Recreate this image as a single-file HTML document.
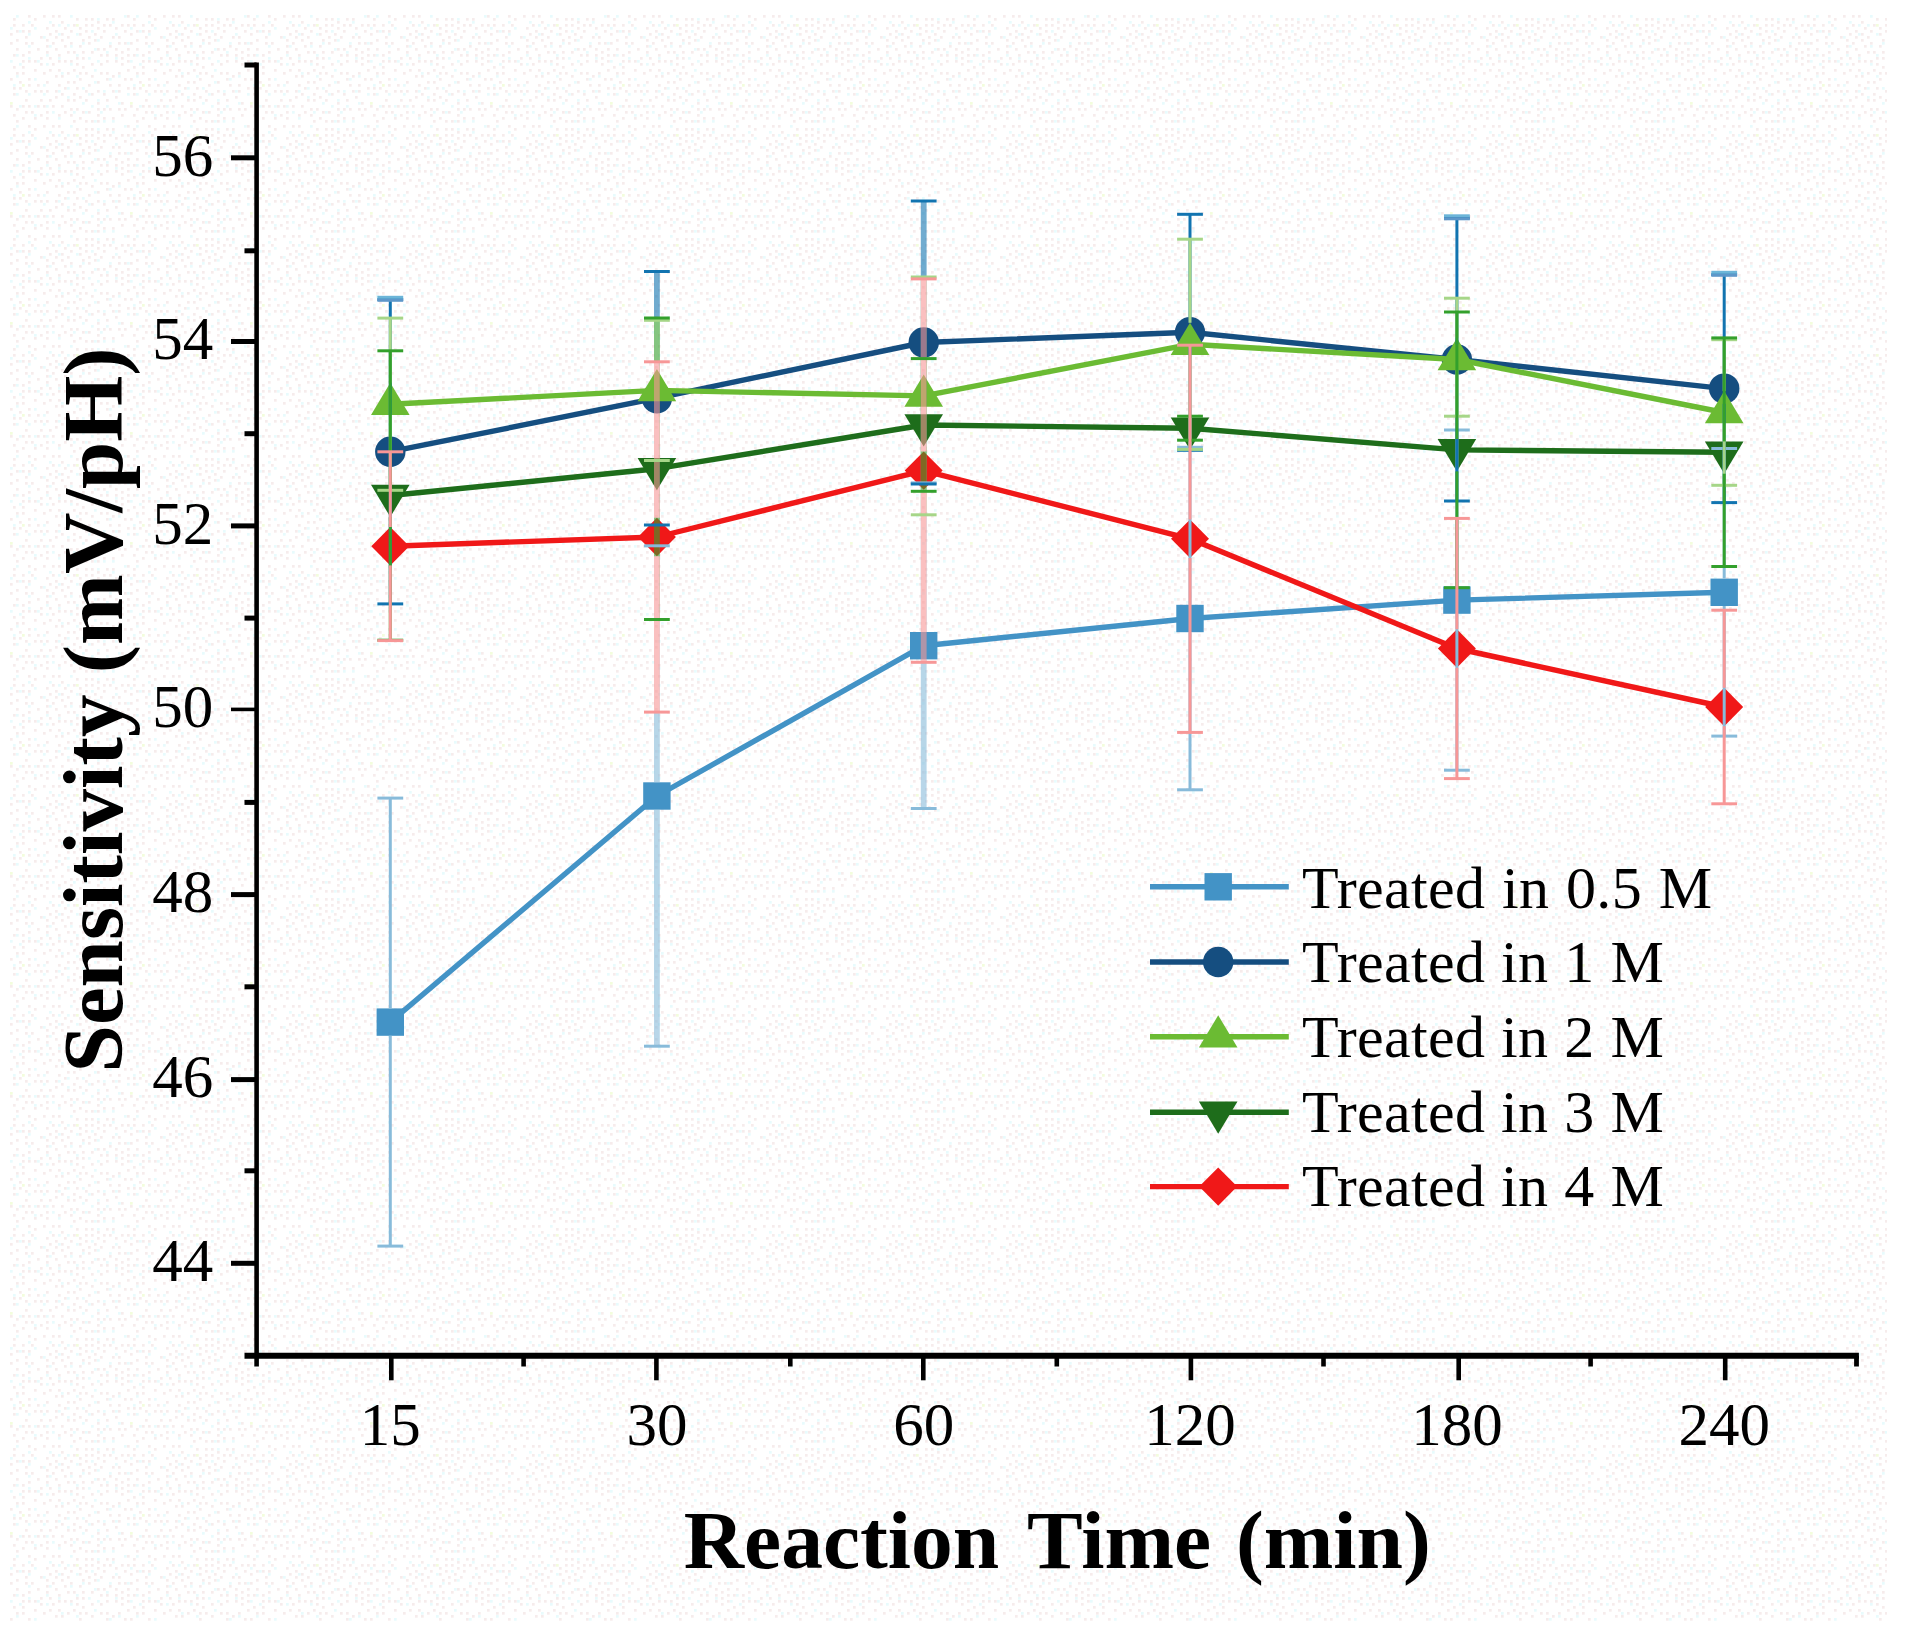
<!DOCTYPE html>
<html lang="en"><head><meta charset="utf-8"><title>Sensitivity vs Reaction Time</title>
<style>
html,body{margin:0;padding:0;background:#fff;}
body{width:1915px;height:1642px;overflow:hidden;}
svg{display:block;}
text{font-family:"Liberation Serif","Times New Roman",serif;fill:#000;}
.tk{font-size:61px;text-anchor:middle;}
.lg{font-size:60px;letter-spacing:0.3px;word-spacing:0.6px;}
.ttl{font-size:83.5px;font-weight:bold;}
</style></head><body>
<svg width="1915" height="1642" viewBox="0 0 1915 1642">
<defs>
<pattern id="dither" x="10" y="15" width="120" height="110" patternUnits="userSpaceOnUse">
<rect x="60" y="27" width="2.7" height="2.7" fill="#F6ECEC"/>
<rect x="75" y="9" width="2.7" height="2.7" fill="#F6ECEC"/>
<rect x="12" y="102" width="2.7" height="2.7" fill="#F6ECEC"/>
<rect x="18" y="69" width="2.7" height="2.7" fill="#F6ECEC"/>
<rect x="111" y="9" width="2.7" height="2.7" fill="#F6ECEC"/>
<rect x="96" y="39" width="2.7" height="2.7" fill="#F6ECEC"/>
<rect x="6" y="15" width="2.7" height="2.7" fill="#F6ECEC"/>
<rect x="81" y="78" width="2.7" height="2.7" fill="#F6ECEC"/>
<rect x="12" y="45" width="2.7" height="2.7" fill="#F6ECEC"/>
<rect x="81" y="9" width="2.7" height="2.7" fill="#F6ECEC"/>
<rect x="108" y="21" width="2.7" height="2.7" fill="#F6ECEC"/>
<rect x="42" y="9" width="2.7" height="2.7" fill="#F6ECEC"/>
<rect x="108" y="75" width="2.7" height="2.7" fill="#F6ECEC"/>
<rect x="6" y="105" width="2.7" height="2.7" fill="#F6ECEC"/>
<rect x="24" y="54" width="2.7" height="2.7" fill="#F6ECEC"/>
<rect x="78" y="27" width="2.7" height="2.7" fill="#F6ECEC"/>
<rect x="102" y="21" width="2.7" height="2.7" fill="#F6ECEC"/>
<rect x="108" y="57" width="2.7" height="2.7" fill="#F6ECEC"/>
<rect x="105" y="33" width="2.7" height="2.7" fill="#F6ECEC"/>
<rect x="18" y="36" width="2.7" height="2.7" fill="#F6ECEC"/>
<rect x="69" y="18" width="2.7" height="2.7" fill="#F6ECEC"/>
<rect x="105" y="12" width="2.7" height="2.7" fill="#F6ECEC"/>
<rect x="117" y="39" width="2.7" height="2.7" fill="#F6ECEC"/>
<rect x="93" y="102" width="2.7" height="2.7" fill="#F6ECEC"/>
<rect x="81" y="60" width="2.7" height="2.7" fill="#F6ECEC"/>
<rect x="87" y="87" width="2.7" height="2.7" fill="#F6ECEC"/>
<rect x="69" y="57" width="2.7" height="2.7" fill="#F6ECEC"/>
<rect x="45" y="33" width="2.7" height="2.7" fill="#F6ECEC"/>
<rect x="45" y="15" width="2.7" height="2.7" fill="#F6ECEC"/>
<rect x="99" y="93" width="2.7" height="2.7" fill="#F6ECEC"/>
<rect x="63" y="84" width="2.7" height="2.7" fill="#F6ECEC"/>
<rect x="54" y="12" width="2.7" height="2.7" fill="#F6ECEC"/>
<rect x="21" y="96" width="2.7" height="2.7" fill="#F6ECEC"/>
<rect x="93" y="78" width="2.7" height="2.7" fill="#F6ECEC"/>
<rect x="63" y="66" width="2.7" height="2.7" fill="#F6ECEC"/>
<rect x="114" y="93" width="2.7" height="2.7" fill="#F6ECEC"/>
<rect x="111" y="87" width="2.7" height="2.7" fill="#F6ECEC"/>
<rect x="12" y="15" width="2.7" height="2.7" fill="#F6ECEC"/>
<rect x="51" y="90" width="2.7" height="2.7" fill="#F6ECEC"/>
<rect x="12" y="9" width="2.7" height="2.7" fill="#F6ECEC"/>
<rect x="57" y="84" width="2.7" height="2.7" fill="#F6ECEC"/>
<rect x="54" y="72" width="2.7" height="2.7" fill="#F6ECEC"/>
<rect x="66" y="3" width="2.7" height="2.7" fill="#F6ECEC"/>
<rect x="87" y="66" width="2.7" height="2.7" fill="#F6ECEC"/>
<rect x="30" y="21" width="2.7" height="2.7" fill="#F6ECEC"/>
<rect x="93" y="9" width="2.7" height="2.7" fill="#F6ECEC"/>
<rect x="39" y="54" width="2.7" height="2.7" fill="#F6ECEC"/>
<rect x="24" y="45" width="2.7" height="2.7" fill="#F6ECEC"/>
<rect x="75" y="75" width="2.7" height="2.7" fill="#F6ECEC"/>
<rect x="93" y="15" width="2.7" height="2.7" fill="#F6ECEC"/>
<rect x="30" y="84" width="2.7" height="2.7" fill="#F6ECEC"/>
<rect x="75" y="105" width="2.7" height="2.7" fill="#F6ECEC"/>
<rect x="51" y="24" width="2.7" height="2.7" fill="#F6ECEC"/>
<rect x="81" y="105" width="2.7" height="2.7" fill="#F6ECEC"/>
<rect x="51" y="78" width="2.7" height="2.7" fill="#F6ECEC"/>
<rect x="66" y="72" width="2.7" height="2.7" fill="#F6ECEC"/>
<rect x="42" y="27" width="2.7" height="2.7" fill="#F6ECEC"/>
<rect x="42" y="0" width="2.7" height="2.7" fill="#F6ECEC"/>
<rect x="93" y="33" width="2.7" height="2.7" fill="#F6ECEC"/>
<rect x="48" y="54" width="2.7" height="2.7" fill="#F6ECEC"/>
<rect x="0" y="27" width="2.7" height="2.7" fill="#F6ECEC"/>
<rect x="117" y="9" width="2.7" height="2.7" fill="#F6ECEC"/>
<rect x="87" y="105" width="2.7" height="2.7" fill="#F6ECEC"/>
<rect x="18" y="90" width="2.7" height="2.7" fill="#F6ECEC"/>
<rect x="36" y="12" width="2.7" height="2.7" fill="#F6ECEC"/>
<rect x="39" y="84" width="2.7" height="2.7" fill="#F6ECEC"/>
<rect x="63" y="9" width="2.7" height="2.7" fill="#F6ECEC"/>
<rect x="18" y="0" width="2.7" height="2.7" fill="#F6ECEC"/>
<rect x="108" y="27" width="2.7" height="2.7" fill="#F6ECEC"/>
<rect x="12" y="39" width="2.7" height="2.7" fill="#F6ECEC"/>
<rect x="117" y="72" width="2.7" height="2.7" fill="#F6ECEC"/>
<rect x="90" y="21" width="2.7" height="2.7" fill="#F6ECEC"/>
<rect x="90" y="57" width="2.7" height="2.7" fill="#F6ECEC"/>
<rect x="15" y="27" width="2.7" height="2.7" fill="#F6ECEC"/>
<rect x="18" y="63" width="2.7" height="2.7" fill="#F6ECEC"/>
<rect x="30" y="99" width="2.7" height="2.7" fill="#F6ECEC"/>
<rect x="3" y="39" width="2.7" height="2.7" fill="#F6ECEC"/>
<rect x="99" y="69" width="2.7" height="2.7" fill="#F6ECEC"/>
<rect x="3" y="99" width="2.7" height="2.7" fill="#F6ECEC"/>
<rect x="48" y="99" width="2.7" height="2.7" fill="#F6ECEC"/>
<rect x="69" y="30" width="2.7" height="2.7" fill="#F6ECEC"/>
<rect x="66" y="42" width="2.7" height="2.7" fill="#F6ECEC"/>
<rect x="102" y="102" width="2.7" height="2.7" fill="#F6ECEC"/>
<rect x="96" y="63" width="2.7" height="2.7" fill="#F6ECEC"/>
<rect x="45" y="75" width="2.7" height="2.7" fill="#F6ECEC"/>
<rect x="3" y="51" width="2.7" height="2.7" fill="#F6ECEC"/>
<rect x="90" y="48" width="2.7" height="2.7" fill="#F6ECEC"/>
<rect x="36" y="66" width="2.7" height="2.7" fill="#F6ECEC"/>
<rect x="42" y="90" width="2.7" height="2.7" fill="#F6ECEC"/>
<rect x="117" y="0" width="2.7" height="2.7" fill="#F6ECEC"/>
<rect x="15" y="21" width="2.7" height="2.7" fill="#F6ECEC"/>
<rect x="72" y="36" width="2.7" height="2.7" fill="#F6ECEC"/>
<rect x="15" y="75" width="2.7" height="2.7" fill="#F6ECEC"/>
<rect x="87" y="75" width="2.7" height="2.7" fill="#F6ECEC"/>
<rect x="27" y="90" width="2.7" height="2.7" fill="#F6ECEC"/>
<rect x="24" y="3" width="2.7" height="2.7" fill="#F6ECEC"/>
<rect x="0" y="18" width="2.7" height="2.7" fill="#F6ECEC"/>
<rect x="81" y="36" width="2.7" height="2.7" fill="#F6ECEC"/>
<rect x="48" y="39" width="2.7" height="2.7" fill="#F6ECEC"/>
<rect x="54" y="96" width="2.7" height="2.7" fill="#F6ECEC"/>
<rect x="45" y="60" width="2.7" height="2.7" fill="#F6ECEC"/>
<rect x="9" y="66" width="2.7" height="2.7" fill="#F6ECEC"/>
<rect x="87" y="99" width="2.7" height="2.7" fill="#F6ECEC"/>
<rect x="78" y="96" width="2.7" height="2.7" fill="#F6ECEC"/>
<rect x="24" y="102" width="2.7" height="2.7" fill="#F6ECEC"/>
<rect x="96" y="3" width="2.7" height="2.7" fill="#F6ECEC"/>
<rect x="27" y="33" width="2.7" height="2.7" fill="#F6ECEC"/>
<rect x="60" y="99" width="2.7" height="2.7" fill="#F6ECEC"/>
<rect x="51" y="6" width="2.7" height="2.7" fill="#F6ECEC"/>
<rect x="96" y="45" width="2.7" height="2.7" fill="#F6ECEC"/>
<rect x="84" y="24" width="2.7" height="2.7" fill="#F6ECEC"/>
<rect x="78" y="21" width="2.7" height="2.7" fill="#F6ECEC"/>
<rect x="75" y="84" width="2.7" height="2.7" fill="#F6ECEC"/>
<rect x="45" y="81" width="2.7" height="2.7" fill="#F6ECEC"/>
<rect x="57" y="21" width="2.7" height="2.7" fill="#F6ECEC"/>
<rect x="27" y="69" width="2.7" height="2.7" fill="#F6ECEC"/>
<rect x="30" y="42" width="2.7" height="2.7" fill="#F6ECEC"/>
<rect x="63" y="78" width="2.7" height="2.7" fill="#F6ECEC"/>
<rect x="60" y="15" width="2.7" height="2.7" fill="#F6ECEC"/>
<rect x="63" y="105" width="2.7" height="2.7" fill="#F6ECEC"/>
<rect x="3" y="72" width="2.7" height="2.7" fill="#F6ECEC"/>
<rect x="117" y="54" width="2.7" height="2.7" fill="#F6ECEC"/>
<rect x="18" y="15" width="2.7" height="2.7" fill="#F6ECEC"/>
<rect x="6" y="33" width="2.7" height="2.7" fill="#F6ECEC"/>
<rect x="81" y="48" width="2.7" height="2.7" fill="#F6ECEC"/>
<rect x="108" y="93" width="2.7" height="2.7" fill="#F6ECEC"/>
<rect x="12" y="51" width="2.7" height="2.7" fill="#F6ECEC"/>
<rect x="0" y="63" width="2.7" height="2.7" fill="#F6ECEC"/>
<rect x="45" y="21" width="2.7" height="2.7" fill="#F6ECEC"/>
<rect x="30" y="48" width="2.7" height="2.7" fill="#F6ECEC"/>
<rect x="36" y="96" width="2.7" height="2.7" fill="#F6ECEC"/>
<rect x="84" y="18" width="2.7" height="2.7" fill="#F6ECEC"/>
<rect x="102" y="75" width="2.7" height="2.7" fill="#F6ECEC"/>
<rect x="96" y="57" width="2.7" height="2.7" fill="#F6ECEC"/>
<rect x="39" y="42" width="2.7" height="2.7" fill="#F6ECEC"/>
<rect x="63" y="36" width="2.7" height="2.7" fill="#F6ECEC"/>
<rect x="24" y="75" width="2.7" height="2.7" fill="#F6ECEC"/>
<rect x="72" y="96" width="2.7" height="2.7" fill="#F6ECEC"/>
<rect x="54" y="45" width="2.7" height="2.7" fill="#F6ECEC"/>
<rect x="87" y="33" width="2.7" height="2.7" fill="#F6ECEC"/>
<rect x="48" y="69" width="2.7" height="2.7" fill="#F6ECEC"/>
<rect x="60" y="45" width="2.7" height="2.7" fill="#F6ECEC"/>
<rect x="6" y="57" width="2.7" height="2.7" fill="#F6ECEC"/>
<rect x="33" y="0" width="2.7" height="2.7" fill="#F6ECEC"/>
<rect x="75" y="3" width="2.7" height="2.7" fill="#F6ECEC"/>
<rect x="57" y="57" width="2.7" height="2.7" fill="#F6ECEC"/>
<rect x="111" y="99" width="2.7" height="2.7" fill="#F6ECEC"/>
<rect x="60" y="93" width="2.7" height="2.7" fill="#F6ECEC"/>
<rect x="111" y="42" width="2.7" height="2.7" fill="#F6ECEC"/>
<rect x="6" y="24" width="2.7" height="2.7" fill="#F6ECEC"/>
<rect x="48" y="0" width="2.7" height="2.7" fill="#F6ECEC"/>
<rect x="87" y="12" width="2.7" height="2.7" fill="#F6ECEC"/>
<rect x="12" y="90" width="2.7" height="2.7" fill="#F6ECEC"/>
<rect x="48" y="45" width="2.7" height="2.7" fill="#F6ECEC"/>
<rect x="87" y="93" width="2.7" height="2.7" fill="#F6ECEC"/>
<rect x="0" y="90" width="2.7" height="2.7" fill="#F6ECEC"/>
<rect x="51" y="18" width="2.7" height="2.7" fill="#F6ECEC"/>
<rect x="96" y="84" width="2.7" height="2.7" fill="#F6ECEC"/>
<rect x="93" y="93" width="2.7" height="2.7" fill="#F6ECEC"/>
<rect x="75" y="57" width="2.7" height="2.7" fill="#F6ECEC"/>
<rect x="69" y="12" width="2.7" height="2.7" fill="#F6ECEC"/>
<rect x="69" y="81" width="2.7" height="2.7" fill="#F6ECEC"/>
<rect x="81" y="3" width="2.7" height="2.7" fill="#F6ECEC"/>
<rect x="105" y="39" width="2.7" height="2.7" fill="#F6ECEC"/>
<rect x="63" y="54" width="2.7" height="2.7" fill="#F6ECEC"/>
<rect x="3" y="78" width="2.7" height="2.7" fill="#F6ECEC"/>
<rect x="72" y="51" width="2.7" height="2.7" fill="#F6ECEC"/>
<rect x="108" y="69" width="2.7" height="2.7" fill="#F6ECEC"/>
<rect x="111" y="36" width="2.7" height="2.7" fill="#F6ECEC"/>
<rect x="51" y="60" width="2.7" height="2.7" fill="#F6ECEC"/>
<rect x="105" y="45" width="2.7" height="2.7" fill="#F6ECEC"/>
<rect x="57" y="36" width="2.7" height="2.7" fill="#F6ECEC"/>
<rect x="42" y="48" width="2.7" height="2.7" fill="#F6ECEC"/>
<rect x="117" y="33" width="2.7" height="2.7" fill="#F6ECEC"/>
<rect x="114" y="27" width="2.7" height="2.7" fill="#F6ECEC"/>
<rect x="87" y="6" width="2.7" height="2.7" fill="#F6ECEC"/>
<rect x="69" y="63" width="2.7" height="2.7" fill="#F6ECEC"/>
<rect x="69" y="102" width="2.7" height="2.7" fill="#F6ECEC"/>
<rect x="114" y="63" width="2.7" height="2.7" fill="#F6ECEC"/>
<rect x="114" y="15" width="2.7" height="2.7" fill="#F6ECEC"/>
<rect x="102" y="60" width="2.7" height="2.7" fill="#F6ECEC"/>
<rect x="39" y="18" width="2.7" height="2.7" fill="#F6ECEC"/>
<rect x="117" y="45" width="2.7" height="2.7" fill="#F6ECEC"/>
<rect x="21" y="9" width="2.7" height="2.7" fill="#F6ECEC"/>
<rect x="36" y="36" width="2.7" height="2.7" fill="#F6ECEC"/>
<rect x="78" y="69" width="2.7" height="2.7" fill="#F6ECEC"/>
<rect x="33" y="57" width="2.7" height="2.7" fill="#F6ECEC"/>
<rect x="6" y="93" width="2.7" height="2.7" fill="#F6ECEC"/>
<rect x="30" y="75" width="2.7" height="2.7" fill="#F6ECEC"/>
<rect x="57" y="66" width="2.7" height="2.7" fill="#F6ECEC"/>
<rect x="36" y="75" width="2.7" height="2.7" fill="#F6ECEC"/>
<rect x="54" y="30" width="2.7" height="2.7" fill="#F6ECEC"/>
<rect x="99" y="30" width="2.7" height="2.7" fill="#F6ECEC"/>
<rect x="9" y="72" width="2.7" height="2.7" fill="#F6ECEC"/>
<rect x="21" y="27" width="2.7" height="2.7" fill="#F6ECEC"/>
<rect x="33" y="90" width="2.7" height="2.7" fill="#F6ECEC"/>
<rect x="72" y="24" width="2.7" height="2.7" fill="#F6ECEC"/>
<rect x="36" y="24" width="2.7" height="2.7" fill="#F6ECEC"/>
<rect x="90" y="39" width="2.7" height="2.7" fill="#F6ECEC"/>
<rect x="111" y="48" width="2.7" height="2.7" fill="#F6ECEC"/>
<rect x="99" y="9" width="2.7" height="2.7" fill="#F6ECEC"/>
<rect x="15" y="84" width="2.7" height="2.7" fill="#F6ECEC"/>
<rect x="3" y="9" width="2.7" height="2.7" fill="#F6ECEC"/>
<rect x="102" y="3" width="2.7" height="2.7" fill="#F6ECEC"/>
<rect x="12" y="57" width="2.7" height="2.7" fill="#F6ECEC"/>
<rect x="105" y="81" width="2.7" height="2.7" fill="#F6ECEC"/>
<rect x="15" y="96" width="2.7" height="2.7" fill="#F6ECEC"/>
<rect x="36" y="30" width="2.7" height="2.7" fill="#F6ECEC"/>
<rect x="3" y="3" width="2.7" height="2.7" fill="#F6ECEC"/>
<rect x="36" y="102" width="2.7" height="2.7" fill="#F6ECEC"/>
<rect x="18" y="45" width="2.7" height="2.7" fill="#F6ECEC"/>
<rect x="66" y="48" width="2.7" height="2.7" fill="#F6ECEC"/>
<rect x="66" y="93" width="2.7" height="2.7" fill="#F6ECEC"/>
<rect x="75" y="15" width="2.7" height="2.7" fill="#F6ECEC"/>
<rect x="72" y="42" width="2.7" height="2.7" fill="#F6ECEC"/>
<rect x="87" y="24" width="2.7" height="2.7" fill="#E8FBFD"/>
<rect x="102" y="6" width="2.7" height="2.7" fill="#E8FBFD"/>
<rect x="66" y="60" width="2.7" height="2.7" fill="#E8FBFD"/>
<rect x="99" y="27" width="2.7" height="2.7" fill="#E8FBFD"/>
<rect x="84" y="105" width="2.7" height="2.7" fill="#E8FBFD"/>
<rect x="60" y="30" width="2.7" height="2.7" fill="#E8FBFD"/>
<rect x="87" y="84" width="2.7" height="2.7" fill="#E8FBFD"/>
<rect x="48" y="42" width="2.7" height="2.7" fill="#E8FBFD"/>
<rect x="24" y="63" width="2.7" height="2.7" fill="#E8FBFD"/>
<rect x="87" y="45" width="2.7" height="2.7" fill="#E8FBFD"/>
<rect x="96" y="36" width="2.7" height="2.7" fill="#E8FBFD"/>
<rect x="51" y="57" width="2.7" height="2.7" fill="#E8FBFD"/>
<rect x="117" y="27" width="2.7" height="2.7" fill="#E8FBFD"/>
<rect x="27" y="45" width="2.7" height="2.7" fill="#E8FBFD"/>
<rect x="36" y="48" width="2.7" height="2.7" fill="#E8FBFD"/>
<rect x="18" y="30" width="2.7" height="2.7" fill="#E8FBFD"/>
<rect x="72" y="27" width="2.7" height="2.7" fill="#E8FBFD"/>
<rect x="57" y="81" width="2.7" height="2.7" fill="#E8FBFD"/>
<rect x="18" y="18" width="2.7" height="2.7" fill="#E8FBFD"/>
<rect x="72" y="87" width="2.7" height="2.7" fill="#E8FBFD"/>
<rect x="6" y="0" width="2.7" height="2.7" fill="#E8FBFD"/>
<rect x="42" y="96" width="2.7" height="2.7" fill="#E8FBFD"/>
<rect x="48" y="75" width="2.7" height="2.7" fill="#E8FBFD"/>
<rect x="0" y="45" width="2.7" height="2.7" fill="#E8FBFD"/>
<rect x="33" y="21" width="2.7" height="2.7" fill="#E8FBFD"/>
<rect x="60" y="48" width="2.7" height="2.7" fill="#E8FBFD"/>
<rect x="18" y="78" width="2.7" height="2.7" fill="#E8FBFD"/>
<rect x="81" y="90" width="2.7" height="2.7" fill="#E8FBFD"/>
<rect x="87" y="3" width="2.7" height="2.7" fill="#E8FBFD"/>
<rect x="117" y="78" width="2.7" height="2.7" fill="#E8FBFD"/>
<rect x="60" y="0" width="2.7" height="2.7" fill="#E8FBFD"/>
<rect x="18" y="6" width="2.7" height="2.7" fill="#E8FBFD"/>
<rect x="48" y="102" width="2.7" height="2.7" fill="#E8FBFD"/>
<rect x="39" y="30" width="2.7" height="2.7" fill="#E8FBFD"/>
<rect x="66" y="18" width="2.7" height="2.7" fill="#E8FBFD"/>
<rect x="108" y="87" width="2.7" height="2.7" fill="#E8FBFD"/>
<rect x="90" y="96" width="2.7" height="2.7" fill="#E8FBFD"/>
<rect x="3" y="69" width="2.7" height="2.7" fill="#E8FBFD"/>
<rect x="99" y="63" width="2.7" height="2.7" fill="#E8FBFD"/>
<rect x="75" y="96" width="2.7" height="2.7" fill="#E8FBFD"/>
<rect x="9" y="48" width="2.7" height="2.7" fill="#E8FBFD"/>
<rect x="0" y="12" width="2.7" height="2.7" fill="#E8FBFD"/>
<rect x="78" y="78" width="2.7" height="2.7" fill="#E8FBFD"/>
<rect x="18" y="42" width="2.7" height="2.7" fill="#E8FBFD"/>
<rect x="24" y="12" width="2.7" height="2.7" fill="#E8FBFD"/>
<rect x="36" y="90" width="2.7" height="2.7" fill="#E8FBFD"/>
<rect x="105" y="42" width="2.7" height="2.7" fill="#E8FBFD"/>
<rect x="24" y="90" width="2.7" height="2.7" fill="#E8FBFD"/>
<rect x="81" y="15" width="2.7" height="2.7" fill="#E8FBFD"/>
<rect x="57" y="72" width="2.7" height="2.7" fill="#E8FBFD"/>
<rect x="9" y="15" width="2.7" height="2.7" fill="#E8FBFD"/>
<rect x="108" y="60" width="2.7" height="2.7" fill="#E8FBFD"/>
<rect x="24" y="99" width="2.7" height="2.7" fill="#E8FBFD"/>
<rect x="48" y="18" width="2.7" height="2.7" fill="#E8FBFD"/>
<rect x="84" y="66" width="2.7" height="2.7" fill="#E8FBFD"/>
<rect x="78" y="42" width="2.7" height="2.7" fill="#E8FBFD"/>
<rect x="93" y="105" width="2.7" height="2.7" fill="#E8FBFD"/>
<rect x="9" y="90" width="2.7" height="2.7" fill="#E8FBFD"/>
<rect x="33" y="69" width="2.7" height="2.7" fill="#E8FBFD"/>
<rect x="96" y="90" width="2.7" height="2.7" fill="#E8FBFD"/>
<rect x="6" y="39" width="2.7" height="2.7" fill="#E8FBFD"/>
<rect x="93" y="75" width="2.7" height="2.7" fill="#E8FBFD"/>
<rect x="63" y="96" width="2.7" height="2.7" fill="#E8FBFD"/>
<rect x="66" y="39" width="2.7" height="2.7" fill="#E8FBFD"/>
<rect x="105" y="75" width="2.7" height="2.7" fill="#E8FBFD"/>
<rect x="39" y="6" width="2.7" height="2.7" fill="#E8FBFD"/>
<rect x="6" y="78" width="2.7" height="2.7" fill="#E8FBFD"/>
<rect x="33" y="78" width="2.7" height="2.7" fill="#E8FBFD"/>
<rect x="6" y="60" width="2.7" height="2.7" fill="#E8FBFD"/>
<rect x="105" y="18" width="2.7" height="2.7" fill="#E8FBFD"/>
<rect x="84" y="33" width="2.7" height="2.7" fill="#E8FBFD"/>
<rect x="48" y="9" width="2.7" height="2.7" fill="#E8FBFD"/>
<rect x="114" y="0" width="2.7" height="2.7" fill="#E8FBFD"/>
<rect x="72" y="72" width="2.7" height="2.7" fill="#E8FBFD"/>
<rect x="84" y="54" width="2.7" height="2.7" fill="#E8FBFD"/>
<rect x="102" y="105" width="2.7" height="2.7" fill="#E8FBFD"/>
<rect x="57" y="9" width="2.7" height="2.7" fill="#E8FBFD"/>
<rect x="36" y="39" width="2.7" height="2.7" fill="#E8FBFD"/>
<rect x="66" y="9" width="2.7" height="2.7" fill="#F3FDDD"/>
<rect x="0" y="87" width="2.7" height="2.7" fill="#F3FDDD"/>
<rect x="12" y="69" width="2.7" height="2.7" fill="#F3FDDD"/>
</pattern>
</defs>
<rect width="1915" height="1642" fill="#ffffff"/>
<rect x="10" y="15" width="1877" height="1606" fill="url(#dither)"/>
<polyline points="390.3,1022.1 656.9,796.0 923.7,645.7 1190.0,618.5 1456.9,600.1 1724.2,592.3" fill="none" stroke="#4393C6" stroke-width="5.4" stroke-linejoin="round"/>
<rect x="376.6" y="1008.4" width="27.4" height="27.4" fill="#4393C6"/>
<rect x="643.2" y="782.3" width="27.4" height="27.4" fill="#4393C6"/>
<rect x="910.0" y="632.0" width="27.4" height="27.4" fill="#4393C6"/>
<rect x="1176.3" y="604.8" width="27.4" height="27.4" fill="#4393C6"/>
<rect x="1443.2" y="586.4" width="27.4" height="27.4" fill="#4393C6"/>
<rect x="1710.5" y="578.6" width="27.4" height="27.4" fill="#4393C6"/>
<polyline points="390.3,451.7 656.9,398.2 923.7,342.5 1190.0,332.3 1456.9,359.5 1724.2,388.6" fill="none" stroke="#154E80" stroke-width="5.4" stroke-linejoin="round"/>
<circle cx="390.3" cy="451.7" r="15.2" fill="#154E80"/>
<circle cx="656.9" cy="398.2" r="15.2" fill="#154E80"/>
<circle cx="923.7" cy="342.5" r="15.2" fill="#154E80"/>
<circle cx="1190.0" cy="332.3" r="15.2" fill="#154E80"/>
<circle cx="1456.9" cy="359.5" r="15.2" fill="#154E80"/>
<circle cx="1724.2" cy="388.6" r="15.2" fill="#154E80"/>
<polyline points="390.3,404.2 656.9,390.4 923.7,395.9 1190.0,344.3 1456.9,359.5 1724.2,412.5" fill="none" stroke="#6BBB33" stroke-width="5.4" stroke-linejoin="round"/>
<polygon points="390.3,382.7 409.6,415.0 371.0,415.0" fill="#6BBB33"/>
<polygon points="656.9,368.9 676.2,401.2 637.6,401.2" fill="#6BBB33"/>
<polygon points="923.7,374.4 943.0,406.7 904.4,406.7" fill="#6BBB33"/>
<polygon points="1190.0,322.8 1209.3,355.1 1170.7,355.1" fill="#6BBB33"/>
<polygon points="1456.9,338.0 1476.2,370.3 1437.6,370.3" fill="#6BBB33"/>
<polygon points="1724.2,391.0 1743.5,423.3 1704.9,423.3" fill="#6BBB33"/>
<polyline points="390.3,495.5 656.9,468.7 923.7,425.0 1190.0,428.2 1456.9,449.9 1724.2,452.2" fill="none" stroke="#1E6D1B" stroke-width="5.4" stroke-linejoin="round"/>
<polygon points="390.3,517.0 409.6,484.7 371.0,484.7" fill="#1E6D1B"/>
<polygon points="656.9,490.2 676.2,457.9 637.6,457.9" fill="#1E6D1B"/>
<polygon points="923.7,446.5 943.0,414.2 904.4,414.2" fill="#1E6D1B"/>
<polygon points="1190.0,449.7 1209.3,417.4 1170.7,417.4" fill="#1E6D1B"/>
<polygon points="1456.9,471.4 1476.2,439.1 1437.6,439.1" fill="#1E6D1B"/>
<polygon points="1724.2,473.7 1743.5,441.4 1704.9,441.4" fill="#1E6D1B"/>
<polyline points="390.3,546.2 656.9,537.0 923.7,470.6 1190.0,538.8 1456.9,648.5 1724.2,707.0" fill="none" stroke="#F01818" stroke-width="5.4" stroke-linejoin="round"/>
<polygon points="390.3,527.0 409.3,546.2 390.3,565.4 371.3,546.2" fill="#F01818"/>
<polygon points="656.9,517.8 675.9,537.0 656.9,556.2 637.9,537.0" fill="#F01818"/>
<polygon points="923.7,451.4 942.7,470.6 923.7,489.8 904.7,470.6" fill="#F01818"/>
<polygon points="1190.0,519.6 1209.0,538.8 1190.0,558.0 1171.0,538.8" fill="#F01818"/>
<polygon points="1456.9,629.3 1475.9,648.5 1456.9,667.7 1437.9,648.5" fill="#F01818"/>
<polygon points="1724.2,687.8 1743.2,707.0 1724.2,726.2 1705.2,707.0" fill="#F01818"/>
<g fill="none">
<line x1="390.3" y1="798.1" x2="390.3" y2="1008.4" stroke="#88BBDA" stroke-width="3"/>
<line x1="390.3" y1="1035.8" x2="390.3" y2="1246.1" stroke="#88BBDA" stroke-width="3"/>
<line x1="377.4" y1="798.1" x2="403.2" y2="798.1" stroke="#88BBDA" stroke-width="3"/><line x1="377.4" y1="1246.1" x2="403.2" y2="1246.1" stroke="#88BBDA" stroke-width="3"/>
<line x1="390.3" y1="299.5" x2="390.3" y2="436.5" stroke="#1274B0" stroke-width="3"/>
<line x1="390.3" y1="466.9" x2="390.3" y2="603.9" stroke="#1274B0" stroke-width="3"/>
<line x1="377.4" y1="299.5" x2="403.2" y2="299.5" stroke="#1274B0" stroke-width="3"/><line x1="377.4" y1="603.9" x2="403.2" y2="603.9" stroke="#1274B0" stroke-width="3"/><line x1="377.4" y1="297.3" x2="403.2" y2="297.3" stroke="#6CB5D8" stroke-width="3"/><line x1="377.4" y1="300.3" x2="403.2" y2="300.3" stroke="#5E97C9" stroke-width="3"/>
<line x1="390.3" y1="318.1" x2="390.3" y2="382.7" stroke="#A6D688" stroke-width="3"/>
<line x1="390.3" y1="415.0" x2="390.3" y2="490.3" stroke="#A6D688" stroke-width="3"/>
<line x1="377.4" y1="318.1" x2="403.2" y2="318.1" stroke="#A6D688" stroke-width="3"/><line x1="377.4" y1="490.3" x2="403.2" y2="490.3" stroke="#A6D688" stroke-width="3"/>
<line x1="390.3" y1="350.8" x2="390.3" y2="484.7" stroke="#33A02C" stroke-width="3"/>
<line x1="390.3" y1="517.0" x2="390.3" y2="640.2" stroke="#33A02C" stroke-width="3"/>
<line x1="377.4" y1="350.8" x2="403.2" y2="350.8" stroke="#33A02C" stroke-width="3"/><line x1="377.4" y1="640.2" x2="403.2" y2="640.2" stroke="#33A02C" stroke-width="3"/>
<line x1="390.3" y1="451.8" x2="390.3" y2="527.0" stroke="#F79797" stroke-width="3"/>
<line x1="390.3" y1="565.4" x2="390.3" y2="640.6" stroke="#F79797" stroke-width="3"/>
<line x1="377.4" y1="451.8" x2="403.2" y2="451.8" stroke="#F79797" stroke-width="3"/><line x1="377.4" y1="640.6" x2="403.2" y2="640.6" stroke="#F79797" stroke-width="3"/>
</g>
<g opacity="0.6" fill="none" stroke-width="5.8">
<line x1="656.9" y1="545.8" x2="656.9" y2="782.3" stroke="#88BBDA"/>
<line x1="656.9" y1="809.7" x2="656.9" y2="1046.2" stroke="#88BBDA"/>
<line x1="656.9" y1="271.5" x2="656.9" y2="383.0" stroke="#1274B0"/>
<line x1="656.9" y1="413.4" x2="656.9" y2="525.0" stroke="#1274B0"/>
<line x1="656.9" y1="320.3" x2="656.9" y2="368.9" stroke="#A6D688"/>
<line x1="656.9" y1="401.2" x2="656.9" y2="460.5" stroke="#A6D688"/>
<line x1="656.9" y1="318.0" x2="656.9" y2="457.9" stroke="#33A02C"/>
<line x1="656.9" y1="490.2" x2="656.9" y2="619.5" stroke="#33A02C"/>
<line x1="656.9" y1="361.8" x2="656.9" y2="517.8" stroke="#F79797"/>
<line x1="656.9" y1="556.2" x2="656.9" y2="712.1" stroke="#F79797"/>
</g>
<g fill="none"><line x1="644.0" y1="545.8" x2="669.8" y2="545.8" stroke="#88BBDA" stroke-width="3"/><line x1="644.0" y1="1046.2" x2="669.8" y2="1046.2" stroke="#88BBDA" stroke-width="3"/><line x1="644.0" y1="271.5" x2="669.8" y2="271.5" stroke="#1274B0" stroke-width="3"/><line x1="644.0" y1="525.0" x2="669.8" y2="525.0" stroke="#1274B0" stroke-width="3"/><line x1="644.0" y1="320.3" x2="669.8" y2="320.3" stroke="#A6D688" stroke-width="3"/><line x1="644.0" y1="460.5" x2="669.8" y2="460.5" stroke="#A6D688" stroke-width="3"/><line x1="644.0" y1="318.0" x2="669.8" y2="318.0" stroke="#33A02C" stroke-width="3"/><line x1="644.0" y1="619.5" x2="669.8" y2="619.5" stroke="#33A02C" stroke-width="3"/><line x1="644.0" y1="361.8" x2="669.8" y2="361.8" stroke="#F79797" stroke-width="3"/><line x1="644.0" y1="712.1" x2="669.8" y2="712.1" stroke="#F79797" stroke-width="3"/></g>
<g opacity="0.6" fill="none" stroke-width="5.8">
<line x1="923.7" y1="482.9" x2="923.7" y2="632.0" stroke="#88BBDA"/>
<line x1="923.7" y1="659.4" x2="923.7" y2="808.5" stroke="#88BBDA"/>
<line x1="923.7" y1="201.0" x2="923.7" y2="327.3" stroke="#1274B0"/>
<line x1="923.7" y1="357.7" x2="923.7" y2="484.0" stroke="#1274B0"/>
<line x1="923.7" y1="277.0" x2="923.7" y2="374.4" stroke="#A6D688"/>
<line x1="923.7" y1="406.7" x2="923.7" y2="514.8" stroke="#A6D688"/>
<line x1="923.7" y1="358.6" x2="923.7" y2="414.2" stroke="#33A02C"/>
<line x1="923.7" y1="446.5" x2="923.7" y2="491.3" stroke="#33A02C"/>
<line x1="923.7" y1="278.9" x2="923.7" y2="451.4" stroke="#F79797"/>
<line x1="923.7" y1="489.8" x2="923.7" y2="662.3" stroke="#F79797"/>
</g>
<g fill="none"><line x1="910.8" y1="482.9" x2="936.6" y2="482.9" stroke="#88BBDA" stroke-width="3"/><line x1="910.8" y1="808.5" x2="936.6" y2="808.5" stroke="#88BBDA" stroke-width="3"/><line x1="910.8" y1="201.0" x2="936.6" y2="201.0" stroke="#1274B0" stroke-width="3"/><line x1="910.8" y1="484.0" x2="936.6" y2="484.0" stroke="#1274B0" stroke-width="3"/><line x1="910.8" y1="277.0" x2="936.6" y2="277.0" stroke="#A6D688" stroke-width="3"/><line x1="910.8" y1="514.8" x2="936.6" y2="514.8" stroke="#A6D688" stroke-width="3"/><line x1="910.8" y1="358.6" x2="936.6" y2="358.6" stroke="#33A02C" stroke-width="3"/><line x1="910.8" y1="491.3" x2="936.6" y2="491.3" stroke="#33A02C" stroke-width="3"/><line x1="910.8" y1="278.9" x2="936.6" y2="278.9" stroke="#F79797" stroke-width="3"/><line x1="910.8" y1="662.3" x2="936.6" y2="662.3" stroke="#F79797" stroke-width="3"/></g>
<g fill="none">
<line x1="1190.0" y1="447.3" x2="1190.0" y2="604.8" stroke="#88BBDA" stroke-width="3"/>
<line x1="1190.0" y1="632.2" x2="1190.0" y2="789.8" stroke="#88BBDA" stroke-width="3"/>
<line x1="1177.1" y1="447.3" x2="1202.9" y2="447.3" stroke="#88BBDA" stroke-width="3"/><line x1="1177.1" y1="789.8" x2="1202.9" y2="789.8" stroke="#88BBDA" stroke-width="3"/>
<line x1="1190.0" y1="214.3" x2="1190.0" y2="317.1" stroke="#1274B0" stroke-width="3"/>
<line x1="1190.0" y1="347.5" x2="1190.0" y2="450.3" stroke="#1274B0" stroke-width="3"/>
<line x1="1177.1" y1="214.3" x2="1202.9" y2="214.3" stroke="#1274B0" stroke-width="3"/><line x1="1177.1" y1="450.3" x2="1202.9" y2="450.3" stroke="#1274B0" stroke-width="3"/>
<line x1="1190.0" y1="239.2" x2="1190.0" y2="322.8" stroke="#A6D688" stroke-width="3"/>
<line x1="1190.0" y1="355.1" x2="1190.0" y2="449.4" stroke="#A6D688" stroke-width="3"/>
<line x1="1177.1" y1="239.2" x2="1202.9" y2="239.2" stroke="#A6D688" stroke-width="3"/><line x1="1177.1" y1="449.4" x2="1202.9" y2="449.4" stroke="#A6D688" stroke-width="3"/>
<line x1="1190.0" y1="416.2" x2="1190.0" y2="417.4" stroke="#33A02C" stroke-width="3"/>
<line x1="1177.1" y1="416.2" x2="1202.9" y2="416.2" stroke="#33A02C" stroke-width="3"/><line x1="1177.1" y1="440.2" x2="1202.9" y2="440.2" stroke="#33A02C" stroke-width="3"/>
<line x1="1190.0" y1="345.2" x2="1190.0" y2="519.6" stroke="#F79797" stroke-width="3"/>
<line x1="1190.0" y1="558.0" x2="1190.0" y2="732.4" stroke="#F79797" stroke-width="3"/>
<line x1="1177.1" y1="345.2" x2="1202.9" y2="345.2" stroke="#F79797" stroke-width="3"/><line x1="1177.1" y1="732.4" x2="1202.9" y2="732.4" stroke="#F79797" stroke-width="3"/>
</g>
<g fill="none">
<line x1="1456.9" y1="430.0" x2="1456.9" y2="586.4" stroke="#88BBDA" stroke-width="3"/>
<line x1="1456.9" y1="613.8" x2="1456.9" y2="770.2" stroke="#88BBDA" stroke-width="3"/>
<line x1="1444.0" y1="430.0" x2="1469.8" y2="430.0" stroke="#88BBDA" stroke-width="3"/><line x1="1444.0" y1="770.2" x2="1469.8" y2="770.2" stroke="#88BBDA" stroke-width="3"/>
<line x1="1456.9" y1="218.0" x2="1456.9" y2="344.3" stroke="#1274B0" stroke-width="3"/>
<line x1="1456.9" y1="374.7" x2="1456.9" y2="501.0" stroke="#1274B0" stroke-width="3"/>
<line x1="1444.0" y1="218.0" x2="1469.8" y2="218.0" stroke="#1274B0" stroke-width="3"/><line x1="1444.0" y1="501.0" x2="1469.8" y2="501.0" stroke="#1274B0" stroke-width="3"/><line x1="1444.0" y1="215.8" x2="1469.8" y2="215.8" stroke="#6CB5D8" stroke-width="3"/><line x1="1444.0" y1="218.8" x2="1469.8" y2="218.8" stroke="#5E97C9" stroke-width="3"/>
<line x1="1456.9" y1="298.2" x2="1456.9" y2="338.0" stroke="#A6D688" stroke-width="3"/>
<line x1="1456.9" y1="370.3" x2="1456.9" y2="416.2" stroke="#A6D688" stroke-width="3"/>
<line x1="1444.0" y1="298.2" x2="1469.8" y2="298.2" stroke="#A6D688" stroke-width="3"/><line x1="1444.0" y1="416.2" x2="1469.8" y2="416.2" stroke="#A6D688" stroke-width="3"/>
<line x1="1456.9" y1="312.0" x2="1456.9" y2="439.1" stroke="#33A02C" stroke-width="3"/>
<line x1="1456.9" y1="471.4" x2="1456.9" y2="587.7" stroke="#33A02C" stroke-width="3"/>
<line x1="1444.0" y1="312.0" x2="1469.8" y2="312.0" stroke="#33A02C" stroke-width="3"/><line x1="1444.0" y1="587.7" x2="1469.8" y2="587.7" stroke="#33A02C" stroke-width="3"/>
<line x1="1456.9" y1="518.4" x2="1456.9" y2="629.3" stroke="#F79797" stroke-width="3"/>
<line x1="1456.9" y1="667.7" x2="1456.9" y2="778.6" stroke="#F79797" stroke-width="3"/>
<line x1="1444.0" y1="518.4" x2="1469.8" y2="518.4" stroke="#F79797" stroke-width="3"/><line x1="1444.0" y1="778.6" x2="1469.8" y2="778.6" stroke="#F79797" stroke-width="3"/>
</g>
<g fill="none">
<line x1="1724.2" y1="448.5" x2="1724.2" y2="578.6" stroke="#88BBDA" stroke-width="3"/>
<line x1="1724.2" y1="606.0" x2="1724.2" y2="736.1" stroke="#88BBDA" stroke-width="3"/>
<line x1="1711.3" y1="448.5" x2="1737.1" y2="448.5" stroke="#88BBDA" stroke-width="3"/><line x1="1711.3" y1="736.1" x2="1737.1" y2="736.1" stroke="#88BBDA" stroke-width="3"/>
<line x1="1724.2" y1="274.5" x2="1724.2" y2="373.4" stroke="#1274B0" stroke-width="3"/>
<line x1="1724.2" y1="403.8" x2="1724.2" y2="502.6" stroke="#1274B0" stroke-width="3"/>
<line x1="1711.3" y1="274.5" x2="1737.1" y2="274.5" stroke="#1274B0" stroke-width="3"/><line x1="1711.3" y1="502.6" x2="1737.1" y2="502.6" stroke="#1274B0" stroke-width="3"/><line x1="1711.3" y1="272.3" x2="1737.1" y2="272.3" stroke="#6CB5D8" stroke-width="3"/><line x1="1711.3" y1="275.3" x2="1737.1" y2="275.3" stroke="#5E97C9" stroke-width="3"/>
<line x1="1724.2" y1="339.7" x2="1724.2" y2="391.0" stroke="#A6D688" stroke-width="3"/>
<line x1="1724.2" y1="423.3" x2="1724.2" y2="485.3" stroke="#A6D688" stroke-width="3"/>
<line x1="1711.3" y1="339.7" x2="1737.1" y2="339.7" stroke="#A6D688" stroke-width="3"/><line x1="1711.3" y1="485.3" x2="1737.1" y2="485.3" stroke="#A6D688" stroke-width="3"/>
<line x1="1724.2" y1="337.9" x2="1724.2" y2="441.4" stroke="#33A02C" stroke-width="3"/>
<line x1="1724.2" y1="473.7" x2="1724.2" y2="566.5" stroke="#33A02C" stroke-width="3"/>
<line x1="1711.3" y1="337.9" x2="1737.1" y2="337.9" stroke="#33A02C" stroke-width="3"/><line x1="1711.3" y1="566.5" x2="1737.1" y2="566.5" stroke="#33A02C" stroke-width="3"/>
<line x1="1724.2" y1="610.2" x2="1724.2" y2="687.8" stroke="#F79797" stroke-width="3"/>
<line x1="1724.2" y1="726.2" x2="1724.2" y2="803.8" stroke="#F79797" stroke-width="3"/>
<line x1="1711.3" y1="610.2" x2="1737.1" y2="610.2" stroke="#F79797" stroke-width="3"/><line x1="1711.3" y1="803.8" x2="1737.1" y2="803.8" stroke="#F79797" stroke-width="3"/>
</g>
<g stroke="#000" fill="none">
<line x1="256.6" y1="62.5" x2="256.6" y2="1366.5" stroke-width="4.6"/>
<line x1="244.5" y1="1355.8" x2="1858.9" y2="1355.8" stroke-width="6"/>
<line x1="231" y1="1263.3" x2="256.6" y2="1263.3" stroke-width="5"/>
<line x1="244.5" y1="1170.8" x2="256.6" y2="1170.8" stroke-width="5"/>
<line x1="231" y1="1079.6" x2="256.6" y2="1079.6" stroke-width="5"/>
<line x1="244.5" y1="986.8" x2="256.6" y2="986.8" stroke-width="5"/>
<line x1="231" y1="894.6" x2="256.6" y2="894.6" stroke-width="5"/>
<line x1="244.5" y1="802.4" x2="256.6" y2="802.4" stroke-width="5"/>
<line x1="231" y1="709.4" x2="256.6" y2="709.4" stroke-width="3.6"/>
<line x1="244.5" y1="618.1" x2="256.6" y2="618.1" stroke-width="5"/>
<line x1="231" y1="525.9" x2="256.6" y2="525.9" stroke-width="5"/>
<line x1="244.5" y1="433.7" x2="256.6" y2="433.7" stroke-width="5"/>
<line x1="231" y1="341.5" x2="256.6" y2="341.5" stroke-width="5"/>
<line x1="244.5" y1="250.8" x2="256.6" y2="250.8" stroke-width="5"/>
<line x1="231" y1="157.8" x2="256.6" y2="157.8" stroke-width="5"/>
<line x1="244.5" y1="65.0" x2="256.6" y2="65.0" stroke-width="5"/>
<line x1="391.3" y1="1355.8" x2="391.3" y2="1380.3" stroke-width="4.6"/>
<line x1="656.4" y1="1355.8" x2="656.4" y2="1380.3" stroke-width="4.6"/>
<line x1="923.3" y1="1355.8" x2="923.3" y2="1380.3" stroke-width="4.6"/>
<line x1="1190.9" y1="1355.8" x2="1190.9" y2="1380.3" stroke-width="4.6"/>
<line x1="1458.7" y1="1355.8" x2="1458.7" y2="1380.3" stroke-width="4.6"/>
<line x1="1725.2" y1="1355.8" x2="1725.2" y2="1380.3" stroke-width="4.6"/>
<line x1="523.6" y1="1355.8" x2="523.6" y2="1366.5" stroke-width="4.6"/>
<line x1="790.3" y1="1355.8" x2="790.3" y2="1366.5" stroke-width="4.6"/>
<line x1="1056.8" y1="1355.8" x2="1056.8" y2="1366.5" stroke-width="4.6"/>
<line x1="1323.5" y1="1355.8" x2="1323.5" y2="1366.5" stroke-width="4.6"/>
<line x1="1590.6" y1="1355.8" x2="1590.6" y2="1366.5" stroke-width="4.6"/>
<line x1="1856.5" y1="1355.8" x2="1856.5" y2="1366.5" stroke-width="4.8"/>
</g>
<text class="tk" x="182.7" y="1281.1">44</text>
<text class="tk" x="182.7" y="1097.4">46</text>
<text class="tk" x="182.7" y="912.4">48</text>
<text class="tk" x="182.7" y="727.2">50</text>
<text class="tk" x="182.7" y="543.7">52</text>
<text class="tk" x="182.7" y="359.3">54</text>
<text class="tk" x="182.7" y="175.6">56</text>
<text class="tk" x="390.3" y="1445.3">15</text>
<text class="tk" x="656.9" y="1445.3">30</text>
<text class="tk" x="923.7" y="1445.3">60</text>
<text class="tk" x="1190.0" y="1445.3">120</text>
<text class="tk" x="1456.9" y="1445.3">180</text>
<text class="tk" x="1724.2" y="1445.3">240</text>
<text class="ttl" y="1568.2"><tspan x="683.8">Reaction</tspan> <tspan x="1027">Time</tspan> <tspan x="1235.9">(min)</tspan></text>
<text class="ttl" style="font-size:85px" transform="translate(122,710) rotate(-90)" y="0"><tspan x="-362.4">Sensitivity</tspan> <tspan x="36.8">(mV/pH)</tspan></text>
<line x1="1150" y1="886.8" x2="1288.8" y2="886.8" stroke="#4393C6" stroke-width="5.4"/>
<rect x="1204.5" y="873.1" width="27.4" height="27.4" fill="#4393C6"/>
<text class="lg" style="word-spacing:1.5px" x="1302" y="907.9">Treated in 0.5 M</text>
<line x1="1150" y1="962.0" x2="1288.8" y2="962.0" stroke="#154E80" stroke-width="5.4"/>
<circle cx="1218.2" cy="962.0" r="15.2" fill="#154E80"/>
<text class="lg" x="1302" y="981.8">Treated in 1 M</text>
<line x1="1150" y1="1036.8" x2="1288.8" y2="1036.8" stroke="#6BBB33" stroke-width="5.4"/>
<polygon points="1218.2,1015.3 1237.5,1047.6 1198.9,1047.6" fill="#6BBB33"/>
<text class="lg" x="1302" y="1057.4">Treated in 2 M</text>
<line x1="1150" y1="1112.3" x2="1288.8" y2="1112.3" stroke="#1E6D1B" stroke-width="5.4"/>
<polygon points="1218.2,1133.8 1237.5,1101.5 1198.9,1101.5" fill="#1E6D1B"/>
<text class="lg" x="1302" y="1131.7">Treated in 3 M</text>
<line x1="1150" y1="1186.6" x2="1288.8" y2="1186.6" stroke="#F01818" stroke-width="5.4"/>
<polygon points="1218.2,1167.4 1237.2,1186.6 1218.2,1205.8 1199.2,1186.6" fill="#F01818"/>
<text class="lg" x="1302" y="1205.7">Treated in 4 M</text>
</svg>
</body></html>
